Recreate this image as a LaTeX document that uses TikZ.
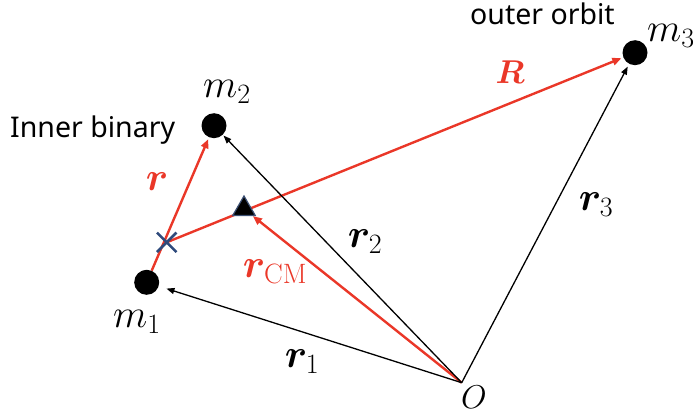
\documentclass[tikz,border=0pt]{standalone}
\usepackage{fix-cm}
\usepackage{fontspec}
\setsansfont{Noto Sans}
\usepackage{amsmath}
\usepackage{bm}
\usetikzlibrary{arrows.meta,shapes.geometric,shapes.misc,backgrounds}
\definecolor{vred}{RGB}{234,55,40}
\definecolor{xblue}{RGB}{46,74,124}
\definecolor{triedge}{RGB}{60,80,115}
\begin{document}
\begin{tikzpicture}[x=1pt,y=-1pt,
  body/.style={circle,fill=black,inner sep=0pt,minimum size=25pt},
  blackvec/.style={-{Triangle[length=8pt,width=6pt]},line width=1.3pt,draw=black},
  redvec/.style={-{Triangle[length=9pt,width=7.5pt]},line width=2.4pt,draw=vred},
  mlab/.style={font=\fontsize{40}{46}\selectfont,inner sep=0pt},
  mbig/.style={font=\fontsize{33}{40}\selectfont,inner sep=0pt},
  txt/.style={font=\sffamily\fontsize{28.5}{34}\selectfont,inner sep=0pt}]
\useasboundingbox (0,0) rectangle (693,417);
% bodies
\node[body] (m1) at (146.7,282.3) {};
\node[body] (m2) at (214,125.7) {};
\node[body] (m3) at (635,52.7) {};
\coordinate (O) at (461.7,382.7);
% centre of mass markers
\node[cross out,draw=xblue,line width=2.5pt,minimum size=17pt,inner sep=0pt] (X) at (166.7,242.3) {};
\node[regular polygon,regular polygon sides=3,fill=black,draw=triedge,line width=1.2pt,inner sep=0pt,minimum size=26pt] (tri) at (244,209) {};
% vectors
\begin{scope}[on background layer]
\draw[redvec,shorten >=2pt] (m1) -- (m2);
\draw[redvec,shorten >=2pt] (X.center) -- (m3);
\draw[redvec] (O) -- (tri);
\draw[blackvec,shorten >=8pt] (O) -- (m1);
\draw[blackvec,shorten >=1pt] (O) -- (m2);
\draw[blackvec,shorten >=3pt] (O) -- (m3);
\end{scope}
% labels
\node[mlab] (lm1) at (137,322) {$m_1$};
\node[mlab] (lm2) at (227,92) {$m_2$};
\node[mlab] (lm3) at (671,36) {$m_3$};
\node[mbig] (lO) at (474,397) {$O$};
\node[mlab] (lr1) at (302,362) {$\bm{r}_1$};
\node[mlab] (lr2) at (365,242) {$\bm{r}_2$};
\node[mlab] (lr3) at (596,205) {$\bm{r}_3$};
\node[mlab,text=vred] (lr) at (157,182) {$\bm{r}$};
\node[mbig,text=vred] (lR) at (510,72) {$\bm{R}$};
\node[mlab,text=vred] (lrcm) at (275,272) {$\bm{r}_{\mathrm{CM}}$};
\node[txt,anchor=base west] (tin) at (10,138) {Inner binary};
\node[txt,anchor=base west] (tout) at (470,25) {outer orbit};
\end{tikzpicture}
\end{document}
